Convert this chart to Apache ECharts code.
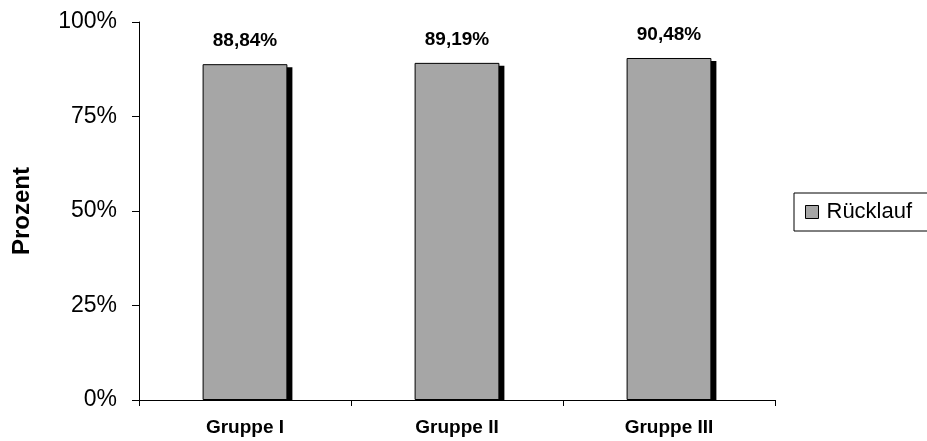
<!DOCTYPE html>
<html>
<head>
<meta charset="utf-8">
<script src="https://cdn.jsdelivr.net/npm/echarts@6/dist/echarts.min.js"></script>
<style>
  html, body { margin: 0; padding: 0; background: #fff; }
  #chart { width: 927px; height: 441px; }
</style>
</head>
<body>
<div id="chart"></div>
<script>
// Rücklaufquote je Gruppe (in Prozent)
const categories = ['Gruppe I', 'Gruppe II', 'Gruppe III'];
const ruecklauf = [88.84, 89.19, 90.48];
const yTicks = [0, 25, 50, 75, 100];

const narrow = '"Liberation Sans Narrow", "Arial Narrow", "Liberation Sans", sans-serif';
const sans = '"Liberation Sans", Arial, sans-serif';
const BAR_RATIO = 0.4;

const chart = echarts.init(document.getElementById('chart'));
chart.setOption({
  animation: false,
  backgroundColor: '#fff',
  grid: { left: 139, top: 22, width: 636, height: 378 },
  legend: {
    data: ['Rücklauf'],
    left: 794, top: 193,
    orient: 'vertical',
    padding: [8, 40, 8, 11],
    borderColor: '#000', borderWidth: 1,
    itemWidth: 13, itemHeight: 13, itemGap: 0,
    icon: 'rect',
    itemStyle: { borderColor: '#000', borderWidth: 1 },
    textStyle: { fontFamily: sans, fontSize: 22, color: '#000', padding: [0, 0, 0, 3] }
  },
  xAxis: {
    type: 'category',
    data: categories,
    axisLine: { lineStyle: { color: '#000', width: 1 } },
    axisTick: { show: true, length: 6, lineStyle: { color: '#000' } },
    axisLabel: { fontFamily: narrow, fontWeight: 'bold', fontSize: 19, color: '#000', margin: 18 }
  },
  yAxis: {
    type: 'value',
    min: yTicks[0], max: yTicks[yTicks.length - 1], interval: 25,
    name: 'Prozent',
    nameLocation: 'middle',
    nameGap: 105,
    nameRotate: 90,
    nameTextStyle: { fontFamily: sans, fontWeight: 'bold', fontSize: 24, color: '#000' },
    axisLine: { show: true, lineStyle: { color: '#000', width: 1 } },
    axisTick: { show: true, length: 7, lineStyle: { color: '#000' } },
    splitLine: { show: false },
    axisLabel: {
      fontFamily: sans, fontSize: 23, color: '#000', margin: 22,
      formatter: v => v + '%'
    }
  },
  series: [
    {
      // black drop shadow behind each bar
      name: 'Schatten',
      type: 'custom',
      z: 1,
      silent: true,
      data: ruecklauf.map((v, i) => [i, v]),
      renderItem: (params, api) => {
        const top = api.coord([api.value(0), api.value(1)]);
        const base = api.coord([api.value(0), 0]);
        const w = api.size([1, 0])[0] * BAR_RATIO;
        const x = top[0] - w / 2 + 5;
        const y = top[1] + 3;
        return {
          type: 'rect',
          shape: { x: x, y: y, width: w, height: base[1] - y },
          style: { fill: '#000' }
        };
      }
    },
    {
      name: 'Rücklauf',
      type: 'bar',
      z: 2,
      data: ruecklauf,
      barWidth: (BAR_RATIO * 100) + '%',
      itemStyle: {
        color: '#a6a6a6',
        borderColor: '#000',
        borderWidth: 1
      },
      label: {
        show: true,
        position: 'top',
        distance: 14,
        fontFamily: narrow,
        fontWeight: 'bold',
        fontSize: 19,
        color: '#000',
        formatter: p => p.value.toFixed(2).replace('.', ',') + '%'
      }
    }
  ]
});
</script>
</body>
</html>
